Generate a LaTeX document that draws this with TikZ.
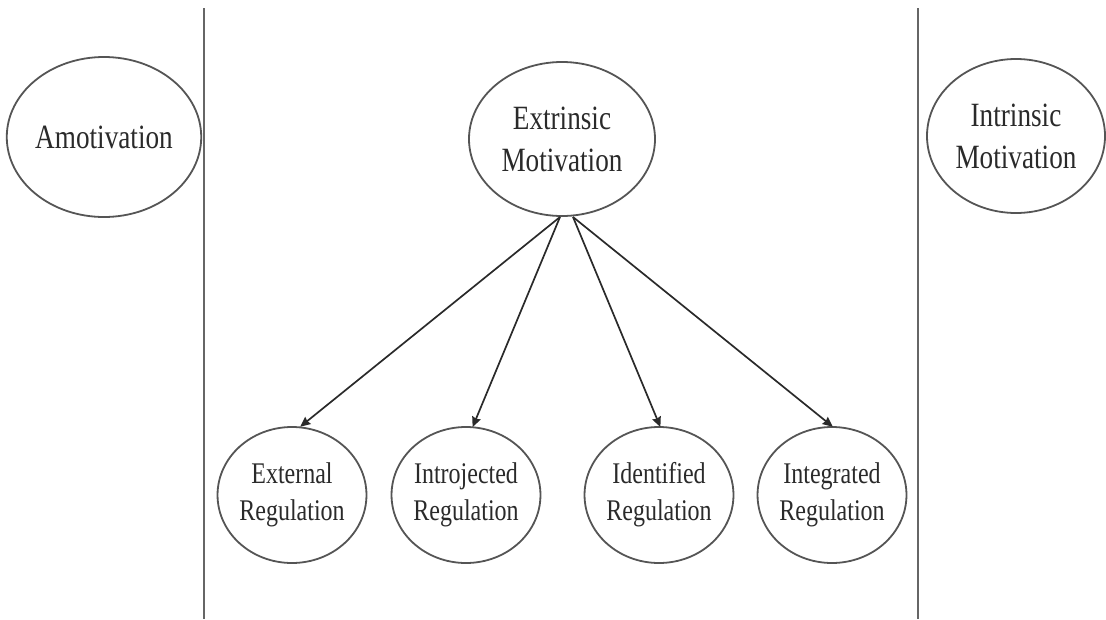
\documentclass[tikz,border=0pt]{standalone}
\usepackage{fontspec}
\setmainfont{Liberation Serif}[FakeStretch=0.8]
\usetikzlibrary{shapes.geometric,arrows.meta}
\definecolor{ink}{HTML}{2A2A2A}
\definecolor{edge}{HTML}{555555}
\definecolor{divider}{HTML}{666666}
\tikzset{
  bigoval/.style={ellipse, draw=edge, line width=1.8pt, inner sep=0pt,
    text=ink, align=center, font=\fontsize{34}{42}\selectfont},
  smalloval/.style={ellipse, draw=edge, line width=1.8pt, inner sep=0pt,
    minimum width=140pt, minimum height=136pt,
    text=ink, align=center, font=\fontsize{30}{37}\selectfont},
  conn/.style={draw=ink, line width=1.7pt, shorten >=-1pt,
    -{Stealth[length=10pt,width=9pt,inset=1pt]}},
  divline/.style={draw=divider, line width=2.6pt}
}
\begin{document}
\begin{tikzpicture}[x=1pt,y=-1pt]
\useasboundingbox (0,0) rectangle (1106,619);
\node[bigoval, minimum width=186pt, minimum height=160pt] (amot) at (104,137) {Amotivation};
\node[bigoval, minimum width=186pt, minimum height=154pt] (extr) at (562,139) {Extrinsic\\Motivation};
\node[bigoval, minimum width=178pt, minimum height=154pt] (intr) at (1016,136) {Intrinsic\\Motivation};
\node[smalloval] (ext) at (292,495) {External\\Regulation};
\node[smalloval] (intro) at (466,495) {Introjected\\Regulation};
\node[smalloval] (iden) at (659,495) {Identified\\Regulation};
\node[smalloval] (integ) at (832,495) {Integrated\\Regulation};
\coordinate (srcl) at (560,217);
\coordinate (srcr) at (573,217);
\draw[conn] (srcl) -- ([xshift=9pt]ext.north);
\draw[conn] (srcl) -- ([xshift=7pt]intro.north);
\draw[conn] (srcr) -- ([xshift=1pt]iden.north);
\draw[conn] (srcr) -- (integ.north);
\coordinate (lt) at (204,8);
\coordinate (lb) at (204,619);
\coordinate (rt) at (918,8);
\coordinate (rb) at (918,619);
\draw[divline] (lt) -- (lb);
\draw[divline] (rt) -- (rb);
\end{tikzpicture}
\end{document}
